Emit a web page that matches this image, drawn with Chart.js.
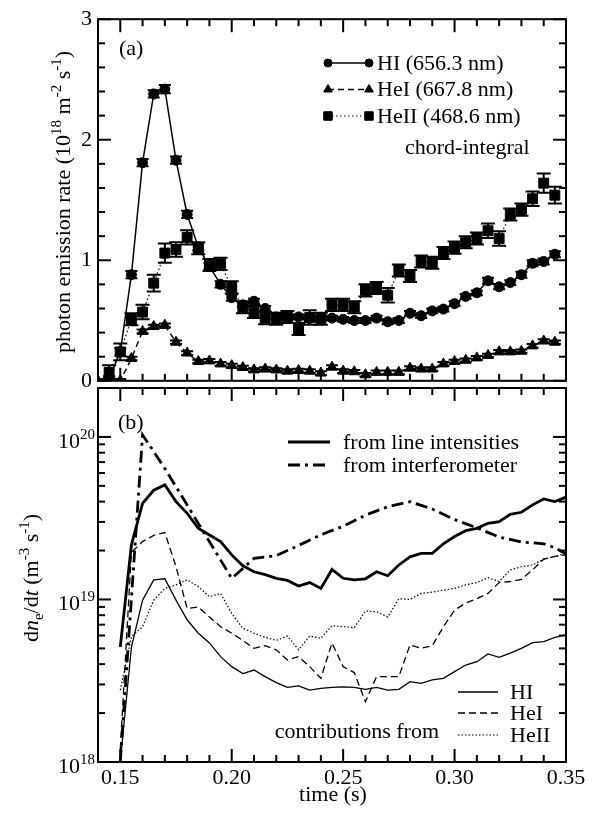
<!DOCTYPE html>
<html>
<head>
<meta charset="utf-8">
<script src="https://cdn.jsdelivr.net/npm/chart.js@4.4.1/dist/chart.umd.min.js"></script>
<style>
  html, body { margin: 0; padding: 0; background: #fff; }
  #wrap { position: relative; width: 597px; height: 813px; overflow: hidden; }
  #top { position: absolute; left: 0; top: 0; }
  #bot { position: absolute; left: 0; top: 380px; }
</style>
</head>
<body>
<div id="wrap">
  <canvas id="top" width="597" height="400" style="width:597px;height:400px"></canvas>
  <canvas id="bot" width="597" height="433" style="width:597px;height:433px"></canvas>
</div>
<script>
// ---- panel (a): chord-integral photon emission rate (10^18 m^-2 s^-1) ----
var hiTimes = [0.145,0.15,0.155,0.16,0.165,0.17,0.175,0.18,0.185,0.19,0.195,0.20,0.205,0.21,0.215,0.22,0.225,0.23,0.235,0.24,0.245,0.25,0.255,0.26,0.265,0.27,0.275,0.28,0.285,0.29,0.295,0.30,0.305,0.31,0.315,0.32,0.325,0.33,0.335,0.34,0.345];
var hiRate  = [0.02,0.24,0.88,1.81,2.38,2.42,1.83,1.38,1.11,0.95,0.80,0.69,0.63,0.66,0.60,0.53,0.525,0.53,0.515,0.52,0.52,0.51,0.50,0.50,0.52,0.49,0.50,0.56,0.54,0.58,0.595,0.64,0.70,0.73,0.83,0.78,0.815,0.88,0.975,0.99,1.05];
var hiErr   = [0.02,0.03,0.03,0.03,0.03,0.035,0.03,0.03,0.03,0.025,0.025,0.025,0.02,0.02,0.02,0.02,0.02,0.02,0.02,0.02,0.02,0.02,0.02,0.02,0.02,0.02,0.02,0.02,0.02,0.02,0.02,0.02,0.02,0.02,0.025,0.02,0.02,0.025,0.025,0.025,0.025];

var heiTimes = [0.14,0.145,0.15,0.155,0.16,0.165,0.17,0.175,0.18,0.185,0.19,0.195,0.20,0.205,0.21,0.215,0.22,0.225,0.23,0.235,0.24,0.245,0.25,0.255,0.26,0.265,0.27,0.275,0.28,0.285,0.29,0.295,0.30,0.305,0.31,0.315,0.32,0.325,0.33,0.335,0.34,0.345];
var heiRate  = [0.0,0.01,0.0,0.185,0.41,0.45,0.46,0.32,0.23,0.16,0.165,0.14,0.126,0.11,0.09,0.097,0.09,0.08,0.085,0.08,0.064,0.113,0.08,0.075,0.05,0.07,0.07,0.07,0.105,0.097,0.097,0.14,0.16,0.17,0.19,0.21,0.24,0.24,0.245,0.29,0.33,0.32];

var heiiTimes = [0.145,0.15,0.155,0.16,0.165,0.17,0.175,0.18,0.185,0.19,0.195,0.20,0.205,0.21,0.215,0.22,0.225,0.23,0.235,0.24,0.245,0.25,0.255,0.26,0.265,0.27,0.275,0.28,0.285,0.29,0.295,0.30,0.305,0.31,0.315,0.32,0.325,0.33,0.335,0.34,0.345];
var heiiRate  = [0.07,0.24,0.51,0.57,0.81,1.06,1.09,1.19,1.10,0.96,0.97,0.775,0.61,0.57,0.52,0.515,0.53,0.43,0.525,0.515,0.63,0.63,0.61,0.75,0.77,0.71,0.915,0.87,0.99,0.98,1.06,1.105,1.15,1.18,1.245,1.18,1.38,1.42,1.51,1.64,1.54];
var heiiErr   = [0.06,0.07,0.05,0.06,0.07,0.08,0.06,0.06,0.05,0.05,0.05,0.05,0.05,0.05,0.05,0.05,0.05,0.05,0.06,0.05,0.05,0.05,0.05,0.05,0.05,0.06,0.05,0.05,0.05,0.05,0.05,0.05,0.05,0.05,0.06,0.06,0.05,0.05,0.06,0.08,0.07];

// ---- panel (b): dn_e/dt (m^-3 s^-1) ----
var bTimes = [0.15,0.155,0.16,0.165,0.17,0.175,0.18,0.185,0.19,0.195,0.20,0.205,0.21,0.215,0.22,0.225,0.23,0.235,0.24,0.245,0.25,0.255,0.26,0.265,0.27,0.275,0.28,0.285,0.29,0.295,0.30,0.305,0.31,0.315,0.32,0.325,0.33,0.335,0.34,0.345,0.35];
var fromLines = [5.1e18,2.17e19,3.9e19,4.7e19,5.07e19,4.0e19,3.39e19,2.74e19,2.49e19,2.27e19,1.88e19,1.61e19,1.48e19,1.42e19,1.35e19,1.31e19,1.21e19,1.27e19,1.17e19,1.53e19,1.35e19,1.32e19,1.34e19,1.48e19,1.40e19,1.63e19,1.83e19,1.92e19,1.92e19,2.2e19,2.44e19,2.65e19,2.74e19,2.94e19,3.01e19,3.34e19,3.44e19,3.82e19,4.15e19,4.0e19,4.26e19];
var contribHI = [1.0e18,5.1e18,9.9e18,1.32e19,1.34e19,9.9e18,7.5e18,6.2e18,5.4e18,4.45e18,3.86e18,3.5e18,3.68e18,3.35e18,3.08e18,2.88e18,2.94e18,2.77e18,2.84e18,2.88e18,2.9e18,2.88e18,2.8e18,2.88e18,2.77e18,2.8e18,3.12e18,3.05e18,3.2e18,3.27e18,3.6e18,3.95e18,4.14e18,4.62e18,4.4e18,4.67e18,5.0e18,5.42e18,5.5e18,5.85e18,6.05e18];
var contribHeI = [1.2e18,1.95e19,2.27e19,2.48e19,2.58e19,1.59e19,8.8e18,9.0e18,7.8e18,6.8e18,6.2e18,5.6e18,5.0e18,5.2e18,4.9e18,4.24e18,4.45e18,3.86e18,3.27e18,5.4e18,3.86e18,3.55e18,2.35e18,3.35e18,3.35e18,3.35e18,5.25e18,5.0e18,5.2e18,6.8e18,8.6e18,9.5e18,1.01e19,1.09e19,1.27e19,1.29e19,1.33e19,1.52e19,1.77e19,1.84e19,1.88e19];
var contribHeII = [2.77e18,5.9e18,6.8e18,9.9e18,1.17e19,1.23e19,1.32e19,1.2e19,1.04e19,1.09e19,8.2e18,6.65e18,6.2e18,5.85e18,5.6e18,5.96e18,4.9e18,5.96e18,5.77e18,6.9e18,6.8e18,6.7e18,8.5e18,8.4e18,7.8e18,1.01e19,1.0e19,1.09e19,1.11e19,1.14e19,1.17e19,1.23e19,1.27e19,1.36e19,1.29e19,1.52e19,1.59e19,1.63e19,1.77e19,1.84e19,1.92e19];
var interfTimes = [0.15,0.16,0.17,0.20,0.205,0.21,0.22,0.23,0.24,0.25,0.26,0.27,0.28,0.29,0.30,0.31,0.32,0.33,0.34,0.345,0.35];
var interfRate  = [1.0e18,1.03e20,6.4e19,1.35e19,1.55e19,1.79e19,1.86e19,2.15e19,2.5e19,2.82e19,3.3e19,3.72e19,4.0e19,3.6e19,3.1e19,2.76e19,2.42e19,2.26e19,2.2e19,2.08e19,1.9e19];

// ticks
var xMajor = [0.15, 0.20, 0.25, 0.30, 0.35];
var xMinor = [0.16,0.17,0.18,0.19,0.21,0.22,0.23,0.24,0.26,0.27,0.28,0.29,0.31,0.32,0.33,0.34];
var yMajorA = [0, 1, 2, 3];
var yMinorA = [0.2,0.4,0.6,0.8,1.2,1.4,1.6,1.8,2.2,2.4,2.6,2.8];
var yMajorB = [1e18, 1e19, 1e20];
var yMinorB = [2e18,3e18,4e18,5e18,6e18,7e18,8e18,9e18,2e19,3e19,4e19,5e19,6e19,7e19,8e19,9e19,2e20];

var SERIF = '"Liberation Serif", "Times New Roman", serif';
var FS = 22;

function pts(xs, ys) {
  return xs.map(function(x, i) { return { x: x, y: ys[i] }; });
}

// text with super/subscripts; parts = [[text, style], ...]
function richText(ctx, parts, x, y, size, angle, align) {
  ctx.save();
  ctx.translate(x, y);
  ctx.rotate(angle || 0);
  var total = 0;
  function fontOf(st) {
    var s = (st === 'sup' || st === 'sub') ? Math.round(size * 0.66) : size;
    return (st === 'i' ? 'italic ' : '') + s + 'px ' + SERIF;
  }
  parts.forEach(function(p) {
    ctx.font = fontOf(p[1]);
    p.w = ctx.measureText(p[0]).width;
    total += p.w;
  });
  var cx = align === 'left' ? 0 : (align === 'right' ? -total : -total / 2);
  ctx.fillStyle = '#000';
  ctx.textAlign = 'left';
  ctx.textBaseline = 'alphabetic';
  parts.forEach(function(p) {
    var dy = 0;
    if (p[1] === 'sup') dy = -size * 0.42;
    if (p[1] === 'sub') dy = size * 0.22;
    ctx.font = fontOf(p[1]);
    ctx.fillText(p[0], cx, dy);
    cx += p.w;
  });
  ctx.restore();
}

var frameTicks = {
  id: 'frameTicks',
  afterDatasetsDraw: function(chart, args, o) {
    var ctx = chart.ctx, a = chart.chartArea, xs = chart.scales.x, ys = chart.scales.y;
    ctx.save();
    ctx.strokeStyle = '#000';
    ctx.lineCap = 'butt';
    function seg(x1, y1, x2, y2, w) {
      ctx.lineWidth = w;
      ctx.beginPath(); ctx.moveTo(x1, y1); ctx.lineTo(x2, y2); ctx.stroke();
    }
    function xt(v, len) {
      var p = xs.getPixelForValue(v);
      seg(p, a.bottom, p, a.bottom - len, 2);
      seg(p, a.top, p, a.top + len, 2);
    }
    function yt(v, len) {
      var p = ys.getPixelForValue(v);
      seg(a.left, p, a.left + len, p, 2);
      seg(a.right, p, a.right - len, p, 2);
    }
    o.xMajor.forEach(function(v) { xt(v, 13); });
    o.xMinor.forEach(function(v) { xt(v, 7); });
    o.yMajor.forEach(function(v) { yt(v, 13); });
    o.yMinor.forEach(function(v) { yt(v, 7); });
    ctx.lineWidth = 2;
    ctx.strokeRect(a.left, a.top, a.right - a.left, a.bottom - a.top);
    ctx.restore();
  }
};

var errorBars = {
  id: 'errorBars',
  afterDatasetsDraw: function(chart) {
    var ctx = chart.ctx, a = chart.chartArea, xs = chart.scales.x, ys = chart.scales.y;
    ctx.save();
    ctx.beginPath(); ctx.rect(a.left, a.top, a.right - a.left, a.bottom - a.top); ctx.clip();
    ctx.strokeStyle = '#000';
    ctx.lineWidth = 2;
    chart.data.datasets.forEach(function(ds) {
      if (!ds.errors) return;
      ds.data.forEach(function(p, i) {
        var e = ds.errors[i];
        var x = xs.getPixelForValue(p.x);
        var y1 = ys.getPixelForValue(p.y - e), y2 = ys.getPixelForValue(p.y + e);
        var c = ds.capHalf;
        ctx.beginPath();
        ctx.moveTo(x, y1); ctx.lineTo(x, y2);
        ctx.moveTo(x - c, y1); ctx.lineTo(x + c, y1);
        ctx.moveTo(x - c, y2); ctx.lineTo(x + c, y2);
        ctx.stroke();
      });
    });
    ctx.restore();
  }
};

function legendRow(ctx, ds, x1, x2, y, text, tx) {
  ctx.save();
  ctx.strokeStyle = '#000';
  ctx.fillStyle = '#000';
  ctx.lineWidth = ds.borderWidth;
  ctx.setLineDash(ds.borderDash || []);
  ctx.beginPath(); ctx.moveTo(x1, y); ctx.lineTo(x2, y); ctx.stroke();
  ctx.setLineDash([]);
  if (ds.pointRadius) {
    ctx.lineWidth = 1;
    var po = { pointStyle: ds.pointStyle, radius: ds.pointRadius - 1, rotation: 0, borderWidth: 1 };
    Chart.helpers.drawPoint(ctx, po, x1, y);
    Chart.helpers.drawPoint(ctx, po, x2, y);
  }
  ctx.font = FS + 'px ' + SERIF;
  ctx.textAlign = 'left';
  ctx.textBaseline = 'middle';
  ctx.fillText(text, tx, y + 1);
  ctx.restore();
}

var annotA = {
  id: 'annotA',
  afterDraw: function(chart) {
    var ctx = chart.ctx, ds = chart.data.datasets;
    legendRow(ctx, ds[0], 328, 369, 63, 'HI (656.3 nm)', 377);
    legendRow(ctx, ds[1], 328, 369, 89.5, 'HeI (667.8 nm)', 377);
    legendRow(ctx, ds[2], 328, 369, 116, 'HeII (468.6 nm)', 377);
    ctx.save();
    ctx.fillStyle = '#000';
    ctx.font = FS + 'px ' + SERIF;
    ctx.textBaseline = 'middle';
    ctx.fillText('chord-integral', 405, 148);
    ctx.fillText('(a)', 119, 49);
    ctx.restore();
    richText(ctx, [['photon emission rate (10', ''], ['18', 'sup'], [' m', ''], ['-2', 'sup'], [' s', ''], ['-1', 'sup'], [')', '']],
      70, 202, FS, -Math.PI / 2);
  }
};

var annotB = {
  id: 'annotB',
  afterDraw: function(chart) {
    var ctx = chart.ctx, ds = chart.data.datasets, ys = chart.scales.y;
    legendRow(ctx, ds[0], 288, 330, 62, 'from line intensities', 343);
    legendRow(ctx, ds[1], 288, 330, 85, 'from interferometer', 343);
    legendRow(ctx, ds[2], 458, 498, 312, 'HI', 510);
    legendRow(ctx, ds[3], 458, 498, 333, 'HeI', 510);
    legendRow(ctx, ds[4], 458, 498, 355, 'HeII', 510);
    ctx.save();
    ctx.fillStyle = '#000';
    ctx.font = FS + 'px ' + SERIF;
    ctx.textBaseline = 'middle';
    ctx.textAlign = 'right';
    ctx.fillText('contributions from', 439, 352);
    ctx.textAlign = 'left';
    ctx.fillText('(b)', 118, 43);
    ctx.textAlign = 'center';
    ctx.fillText('time (s)', 333, 415);
    ctx.restore();
    // log tick labels 10^n
    yMajorB.forEach(function(v) {
      var p = ys.getPixelForValue(v);
      var n = Math.round(Math.log10(v));
      richText(ctx, [['10', ''], [String(n), 'sup']], 95, p + 11, FS, 0, 'right');
    });
    richText(ctx, [['d', ''], ['n', 'i'], ['e', 'sub'], ['/d', ''], ['t', 'i'], [' (m', ''], ['-3', 'sup'], [' s', ''], ['-1', 'sup'], [')', '']],
      38, 198, FS, -Math.PI / 2);
  }
};

var chartA = new Chart(document.getElementById('top'), {
  type: 'line',
  data: {
    datasets: [
      { label: 'HI (656.3 nm)', data: pts(hiTimes, hiRate), errors: hiErr, capHalf: 6,
        borderColor: '#000', backgroundColor: '#000', borderWidth: 1.5,
        pointStyle: 'circle', pointRadius: 5, pointBorderWidth: 1 },
      { label: 'HeI (667.8 nm)', data: pts(heiTimes, heiRate), errors: heiRate.map(function() { return 0.015; }), capHalf: 6,
        borderColor: '#000', backgroundColor: '#000', borderWidth: 1.5, borderDash: [6, 4],
        pointStyle: 'triangle', pointRadius: 6, pointBorderWidth: 1 },
      { label: 'HeII (468.6 nm)', data: pts(heiiTimes, heiiRate), errors: heiiErr, capHalf: 7,
        borderColor: '#000', backgroundColor: '#000', borderWidth: 1.2, borderDash: [1.5, 2.5],
        pointStyle: 'rect', pointRadius: 7, pointBorderWidth: 1 }
    ]
  },
  options: {
    responsive: false,
    animation: false,
    layout: { padding: { top: 15, right: 31, left: 0, bottom: 0 } },
    plugins: {
      legend: { display: false },
      tooltip: { enabled: false },
      frameTicks: { xMajor: xMajor, xMinor: xMinor, yMajor: yMajorA, yMinor: yMinorA }
    },
    scales: {
      x: {
        type: 'linear', min: 0.14, max: 0.35,
        grid: { display: false, drawTicks: false },
        border: { display: false },
        ticks: { display: false },
        afterFit: function(s) { s.height = 12; }
      },
      y: {
        type: 'linear', min: 0, max: 3,
        grid: { display: false, drawTicks: false },
        border: { display: false },
        afterBuildTicks: function(s) { s.ticks = yMajorA.map(function(v) { return { value: v }; }); },
        ticks: { color: '#000', padding: 6, font: { family: SERIF, size: FS } },
        afterFit: function(s) { s.width = 98; }
      }
    }
  },
  plugins: [errorBars, frameTicks, annotA]
});

var chartB = new Chart(document.getElementById('bot'), {
  type: 'line',
  data: {
    datasets: [
      { label: 'from line intensities', data: pts(bTimes, fromLines),
        borderColor: '#000', borderWidth: 2.8, pointRadius: 0 },
      { label: 'from interferometer', data: pts(interfTimes, interfRate),
        borderColor: '#000', borderWidth: 2.8, borderDash: [12, 5, 3, 5], pointRadius: 0 },
      { label: 'HI', data: pts(bTimes, contribHI),
        borderColor: '#000', borderWidth: 1.3, pointRadius: 0 },
      { label: 'HeI', data: pts(bTimes, contribHeI),
        borderColor: '#000', borderWidth: 1.3, borderDash: [7, 4], pointRadius: 0 },
      { label: 'HeII', data: pts(bTimes, contribHeII),
        borderColor: '#000', borderWidth: 1.2, borderDash: [1.5, 2], pointRadius: 0 }
    ]
  },
  options: {
    responsive: false,
    animation: false,
    layout: { padding: { top: 8, right: 31, left: 0, bottom: 0 } },
    plugins: {
      legend: { display: false },
      tooltip: { enabled: false },
      frameTicks: { xMajor: xMajor, xMinor: xMinor, yMajor: yMajorB, yMinor: yMinorB }
    },
    scales: {
      x: {
        type: 'linear', min: 0.14, max: 0.35,
        grid: { display: false, drawTicks: false },
        border: { display: false },
        afterBuildTicks: function(s) { s.ticks = xMajor.map(function(v) { return { value: v }; }); },
        ticks: { color: '#000', padding: 3, maxRotation: 0, font: { family: SERIF, size: FS },
                 callback: function(v) { return v.toFixed(2); } },
        afterFit: function(s) { s.height = 51; }
      },
      y: {
        type: 'logarithmic', min: 1e18, max: 2e20,
        grid: { display: false, drawTicks: false },
        border: { display: false },
        ticks: { display: false },
        afterFit: function(s) { s.width = 98; }
      }
    }
  },
  plugins: [frameTicks, annotB]
});
</script>
</body>
</html>
